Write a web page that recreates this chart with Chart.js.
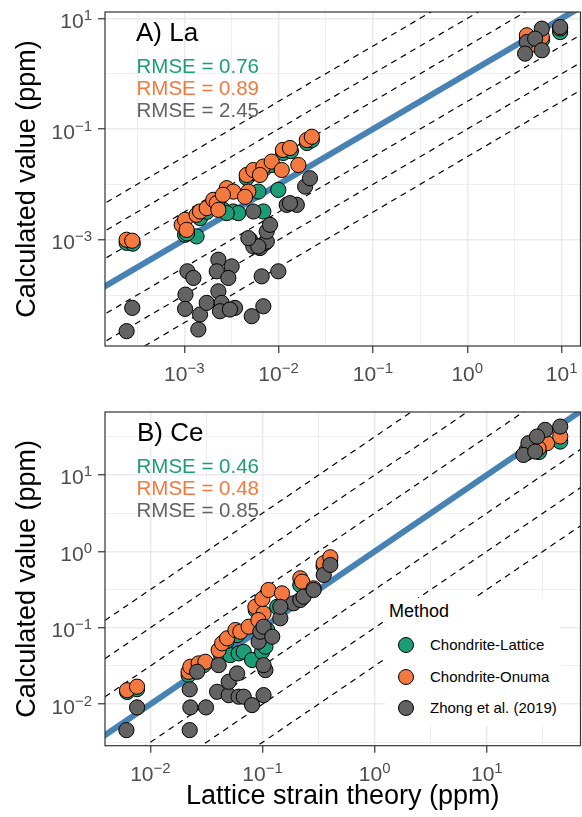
<!DOCTYPE html>
<html>
<head>
<meta charset="utf-8">
<script src="https://cdn.jsdelivr.net/npm/chart.js@4.4.1/dist/chart.umd.min.js"></script>
<style>
  html, body { margin: 0; padding: 0; background: #fff; width: 582px; height: 817px; overflow: hidden; }
  #wrap { position: relative; width: 582px; height: 817px; overflow: hidden; font-family: 'Liberation Sans', Arial, sans-serif; }
  .panel { position: absolute; left: 0; }
  #legend { position: absolute; left: 385px; top: 598px; width: 176px; height: 128px; background: #fff; }
  #legend .ttl { position: absolute; left: 4px; top: 3px; font-size: 18px; color: #000; line-height: normal; }
  #legend .item { position: absolute; left: 0; height: 20px; }
  #legend .dot { position: absolute; left: 13px; width: 14px; height: 14px; border-radius: 50%; border: 1px solid #000; }
  #legend .lab { position: absolute; left: 45px; top: -1px; font-size: 15px; color: #000; white-space: nowrap; line-height: normal; }
</style>
</head>
<body>
<div id="wrap">
  <canvas id="chartLa" class="panel" style="top:0" width="582" height="395"></canvas>
  <canvas id="chartCe" class="panel" style="top:395px" width="582" height="422"></canvas>
  <div id="legend"></div>
</div>
<script>
// ---- data ----
const methods = ['Chondrite-Lattice', 'Chondrite-Onuma', 'Zhong et al. (2019)'];
const methodColors = ['#1B9E77', '#F4793E', '#636363'];

// A) La
const laLatticeX = [2.45e-4, 2.85e-4, 1.02e-3, 1.35e-3, 1.47e-3, 2.59e-3, 3.31e-3, 3.74e-3, 6.89e-3, 9.93e-3, 6.1e-3, 2.82e-3, 1.07e-3, 1.74e-3, 2.2e-3, 4.6e-3, 5.5e-3, 7.0e-3, 8.5e-3, 1.12e-2, 1.35e-2, 2.0e-2, 2.25e-2, 9.64, 4.3, 6.2];
const laLatticeY = [8.8e-4, 8.5e-4, 1.23e-3, 1.15e-3, 2.46e-3, 3.47e-3, 3.24e-3, 3.03e-3, 3.24e-3, 7.96e-3, 7.41e-3, 3.03e-3, 1.3e-3, 3.2e-3, 4.1e-3, 1.3e-2, 1.6e-2, 1.9e-2, 2.25e-2, 3.7e-2, 4.0e-2, 5.6e-2, 6.3e-2, 5.65, 4.37, 4.1];
const laOnumaX = [2.45e-4, 2.81e-4, 9.4e-4, 1.02e-3, 1.06e-3, 1.35e-3, 1.47e-3, 1.73e-3, 2.03e-3, 2.21e-3, 2.30e-3, 2.82e-3, 3.31e-3, 4.78e-3, 4.59e-3, 5.40e-3, 6.89e-3, 8.45e-3, 6.35e-3, 1.11e-2, 1.32e-2, 1.62e-2, 1.99e-2, 2.25e-2, 1.08e-2, 4.41e-3, 2.57e-3, 4.28, 6.17, 9.64, 4.62];
const laOnumaY = [1.0e-3, 9.6e-4, 1.86e-3, 2.29e-3, 1.51e-3, 2.82e-3, 3.24e-3, 3.72e-3, 5.26e-3, 4.58e-3, 3.47e-3, 8.55e-3, 7.41e-3, 7.41e-3, 1.48e-2, 1.82e-2, 2.10e-2, 2.58e-2, 1.48e-2, 4.19e-2, 4.55e-2, 2.24e-2, 6.34e-2, 7.26e-2, 1.82e-2, 5.96e-3, 6.5e-3, 4.94, 4.60, 6.58, 3.27];
const laZhongX = [2.81e-4, 2.45e-4, 1.08e-3, 1.25e-3, 1.03e-3, 1.02e-3, 1.47e-3, 1.41e-3, 2.30e-3, 2.21e-3, 3.18e-3, 2.93e-3, 2.30e-3, 1.73e-3, 2.49e-3, 2.39e-3, 3.45e-3, 3.05e-3, 5.19e-3, 6.89e-3, 6.62e-3, 9.93e-3, 4.98e-3, 5.40e-3, 6.35e-3, 7.18e-3, 7.5e-3, 6.1e-3, 7.48e-3, 8.11e-3, 5.40e-3, 4.78e-3, 1.22e-2, 1.56e-2, 1.32e-2, 1.91e-2, 2.15e-2, 6.17, 4.28, 5.24, 4.10, 6.17, 9.64];
const laZhongY = [5.87e-5, 2.23e-5, 2.69e-4, 2.04e-4, 1.02e-4, 5.64e-5, 4.46e-5, 2.39e-5, 4.36e-4, 2.69e-4, 3.30e-4, 2.04e-4, 1.17e-4, 7.23e-5, 7.23e-5, 5.11e-5, 5.87e-5, 5.48e-5, 4.15e-5, 6.28e-5, 2.18e-4, 2.69e-4, 1.0e-3, 7.57e-4, 7.08e-4, 8.73e-4, 9.3e-4, 7.57e-4, 1.41e-3, 1.86e-3, 3.24e-3, 1.07e-3, 4.27e-3, 4.27e-3, 4.58e-3, 9.12e-3, 1.29e-2, 6.52, 3.74, 4.31, 2.31, 2.65, 6.97];
const laRmse = ['0.76', '0.89', '2.45'];

// B) Ce
const ceLatticeX = [6.2e-3, 7.6e-3, 2.19e-2, 2.99e-2, 4.21e-2, 5.16e-2, 6.12e-2, 6.79e-2, 8.06e-2, 9.90e-2, 0.106, 0.110, 5.93e-2, 0.135, 0.217, 2.4e-2, 0.087, 0.35, 0.40, 4.8e-2, 45.1, 22.8, 29.2];
const ceLatticeY = [1.44e-2, 1.57e-2, 2.40e-2, 3.24e-2, 4.61e-2, 4.38e-2, 4.61e-2, 4.84e-2, 3.78e-2, 4.84e-2, 5.64e-2, 9.33e-2, 8.01e-2, 0.188, 0.363, 2.9e-2, 0.17, 0.64, 0.77, 6.7e-2, 27.4, 19.5, 20.0];
const ceOnumaX = [6.19e-3, 7.60e-3, 2.19e-2, 2.27e-2, 2.69e-2, 3.09e-2, 4.06e-2, 4.36e-2, 4.83e-2, 5.73e-2, 6.34e-2, 7.52e-2, 8.63e-2, 0.102, 0.0995, 0.113, 0.149, 0.217, 0.225, 0.285, 0.351, 0.402, 0.0918, 34.4, 28.9, 45.1, 22.7];
const ceOnumaY = [1.52e-2, 1.69e-2, 2.65e-2, 3.08e-2, 3.41e-2, 3.58e-2, 5.10e-2, 6.25e-2, 7.26e-2, 9.33e-2, 8.87e-2, 0.103, 0.188, 0.154, 0.238, 0.312, 0.282, 0.444, 0.401, 0.328, 0.698, 0.837, 0.126, 26.1, 22.4, 31.9, 21.3];
const ceZhongX = [7.60e-3, 6.11e-3, 2.24e-2, 2.27e-2, 3.13e-2, 2.24e-2, 3.93e-2, 4.99e-2, 4.99e-2, 6.12e-2, 6.79e-2, 8.06e-2, 0.102, 5.93e-2, 0.106, 0.102, 4.06e-2, 2.61e-2, 9.22e-2, 9.55e-2, 0.102, 0.122, 0.144, 0.189, 0.217, 0.232, 0.285, 0.351, 0.402, 0.144, 33.1, 45.1, 23.5, 28.0, 21.2, 27.0];
const ceZhongY = [9.05e-3, 4.56e-3, 1.56e-2, 9.05e-3, 9.05e-3, 4.56e-3, 1.45e-2, 1.31e-2, 1.96e-2, 1.25e-2, 1.25e-2, 9.70e-3, 1.31e-2, 2.52e-2, 2.79e-2, 3.24e-2, 3.24e-2, 2.65e-2, 6.56e-2, 8.87e-2, 0.103, 7.62e-2, 0.133, 0.209, 0.231, 0.255, 0.312, 0.491, 0.664, 0.188, 39.0, 43.1, 26.1, 31.9, 18.3, 20.3];
const ceRmse = ['0.46', '0.48', '0.85'];

// axis ranges (log10) and tick labels
const laXRange = [-3.84, 1.2], laYRange = [-4.92, 1.115];
const ceXRange = [-2.405, 1.835], ceYRange = [-2.545, 1.825];
const laXTicks = [1e-3, 1e-2, 1e-1, 1, 10];
const laYTicks = [1e-3, 1e-1, 10];
const ceXTicks = [1e-2, 1e-1, 1, 10];
const ceYTicks = [1e-2, 1e-1, 1, 10];

// dashed guide lines: offsets from the 1:1 line, in decades
const guideOffsets = [-1.5, -1, -0.5, 0.5, 1, 1.5];

// ---- helpers ----
const FONT = "'Liberation Sans', Arial, sans-serif";
const pts = (xs, ys) => xs.map((x, i) => ({ x: x, y: ys[i] }));

function tickBuilder(majors) {
  return scale => {
    const logs = majors.map(Math.log10);
    const step = logs[1] - logs[0];
    const ext = [logs[0] - step].concat(logs, [logs[logs.length - 1] + step]);
    const list = [];
    ext.forEach((l, i) => {
      list.push({ value: Math.pow(10, l), major: logs.includes(l) });
      if (i < ext.length - 1) list.push({ value: Math.pow(10, l + step / 2), major: false });
    });
    scale.ticks = list.filter(t => t.value >= scale.min && t.value <= scale.max);
  };
}

function axis(range, majors, extra) {
  return Object.assign({
    type: 'logarithmic',
    min: Math.pow(10, range[0]),
    max: Math.pow(10, range[1]),
    afterBuildTicks: tickBuilder(majors),
    border: { display: false },
    grid: {
      color: '#EBEBEB',
      lineWidth: c => (c.tick && c.tick.major ? 1.5 : 0.8),
      tickColor: c => (c.tick && c.tick.major ? '#333333' : 'rgba(0,0,0,0)'),
      tickWidth: 1.2,
      tickLength: 7
    },
    ticks: {
      autoSkip: false,
      maxRotation: 0,
      padding: 0,
      font: { family: FONT, size: 1, lineHeight: 1 },
      callback: () => ''   // power labels are drawn by the powLabels plugin
    }
  }, extra);
}

function guideSets(range) {
  const lo = Math.pow(10, range[0] - 3), hi = Math.pow(10, range[1] + 3);
  const sets = guideOffsets.map(o => ({
    type: 'line', data: [{ x: lo, y: lo * Math.pow(10, o) }, { x: hi, y: hi * Math.pow(10, o) }],
    borderColor: '#000', borderWidth: 1.2, borderDash: [6, 5], pointRadius: 0, order: 5
  }));
  sets.push({
    type: 'line', data: [{ x: lo, y: lo }, { x: hi, y: hi }],
    borderColor: '#4682B4', borderWidth: 6, pointRadius: 0, order: 4
  });
  return sets;
}

function pointSet(i, xs, ys) {
  return {
    label: methods[i], data: pts(xs, ys), backgroundColor: methodColors[i],
    borderColor: '#000', borderWidth: 1, pointRadius: 7.6, pointHoverRadius: 7.6,
    order: 3 - i
  };
}

// "10" with a raised exponent, like R's plotmath labels
function drawPow(ctx, v, x, y, align) {
  const e = String(Math.round(Math.log10(v))).replace('-', '\u2212');
  ctx.font = '21px ' + FONT;
  const w1 = ctx.measureText('10').width;
  ctx.font = '15px ' + FONT;
  const w2 = ctx.measureText(e).width;
  const x0 = align === 'center' ? x - (w1 + w2) / 2 : x - (w1 + w2);
  ctx.font = '21px ' + FONT;
  ctx.fillText('10', x0, y);
  ctx.font = '15px ' + FONT;
  ctx.fillText(e, x0 + w1, y - 8);
}

const powLabels = {
  id: 'powLabels',
  afterDraw(chart) {
    const { ctx, chartArea: a } = chart;
    const sx = chart.scales.x, sy = chart.scales.y;
    ctx.save();
    ctx.fillStyle = '#4D4D4D';
    ctx.textAlign = 'left';
    ctx.textBaseline = 'alphabetic';
    sx.ticks.filter(t => t.major).forEach(t => drawPow(ctx, t.value, sx.getPixelForValue(t.value), a.bottom + 35, 'center'));
    sy.ticks.filter(t => t.major).forEach(t => drawPow(ctx, t.value, 92, sy.getPixelForValue(t.value) + 9.5, 'right'));
    ctx.restore();
  }
};

// panel border + text annotations
const panelNotes = {
  id: 'panelNotes',
  afterDatasetsDraw(chart, args, opts) {
    const { ctx, chartArea: a } = chart;
    ctx.save();
    ctx.textBaseline = 'alphabetic';
    ctx.fillStyle = '#000';
    ctx.font = '26px ' + FONT;
    ctx.fillText(opts.title, a.left + opts.dx, a.top + 28.5);
    ctx.font = '20.5px ' + FONT;
    opts.rmse.forEach((r, i) => {
      ctx.fillStyle = methodColors[i];
      ctx.fillText('RMSE = ' + r, a.left + 31.5, a.top + 61 + i * 22);
    });
    ctx.restore();
  },
  afterDraw(chart) {
    const { ctx, chartArea: a } = chart;
    ctx.save();
    ctx.strokeStyle = '#333333';
    ctx.lineWidth = 1.2;
    ctx.strokeRect(a.left, a.top, a.right - a.left, a.bottom - a.top);
    ctx.restore();
  }
};

function makeChart(id, cfg) {
  return new Chart(document.getElementById(id), {
    type: 'scatter',
    data: { datasets: cfg.datasets },
    options: {
      responsive: false,
      animation: false,
      layout: { autoPadding: false, padding: { top: cfg.padTop, right: 1.5, left: 0, bottom: 0 } },
      plugins: {
        legend: { display: false },
        tooltip: { enabled: false },
        panelNotes: cfg.notes
      },
      scales: {
        x: axis(cfg.xRange, cfg.xTicks, {
          afterFit: s => { s.height = cfg.xHeight; },
          title: cfg.xTitle
            ? { display: true, text: cfg.xTitle, color: '#000', font: { family: FONT, size: 27 }, padding: { top: 0, bottom: 4 } }
            : { display: false }
        }),
        y: axis(cfg.yRange, cfg.yTicks, {
          afterFit: s => { s.width = 105; },
          title: { display: true, text: 'Calculated value (ppm)', color: '#000', font: { family: FONT, size: 27 }, padding: { top: 11, bottom: 0 } }
        })
      }
    },
    plugins: [panelNotes, powLabels]
  });
}

makeChart('chartLa', {
  padTop: 12, xHeight: 49,
  xRange: laXRange, yRange: laYRange, xTicks: laXTicks, yTicks: laYTicks,
  notes: { title: 'A) La', dx: 31, rmse: laRmse },
  datasets: [
    pointSet(0, laLatticeX, laLatticeY),
    pointSet(1, laOnumaX, laOnumaY),
    pointSet(2, laZhongX, laZhongY)
  ].concat(guideSets(laXRange))
});

makeChart('chartCe', {
  padTop: 17, xHeight: 71.3, xTitle: 'Lattice strain theory (ppm)',
  xRange: ceXRange, yRange: ceYRange, xTicks: ceXTicks, yTicks: ceYTicks,
  notes: { title: 'B) Ce', dx: 32, rmse: ceRmse },
  datasets: [
    pointSet(0, ceLatticeX, ceLatticeY),
    pointSet(1, ceOnumaX, ceOnumaY),
    pointSet(2, ceZhongX, ceZhongY)
  ].concat(guideSets(ceXRange))
});

// legend (inside lower panel)
const legend = document.getElementById('legend');
legend.innerHTML = '<div class="ttl">Method</div>' + methods.map((m, i) =>
  '<div class="item" style="top:' + (39 + i * 31.5) + 'px">' +
  '<div class="dot" style="background:' + methodColors[i] + '"></div>' +
  '<div class="lab">' + m + '</div></div>').join('');
</script>
</body>
</html>
